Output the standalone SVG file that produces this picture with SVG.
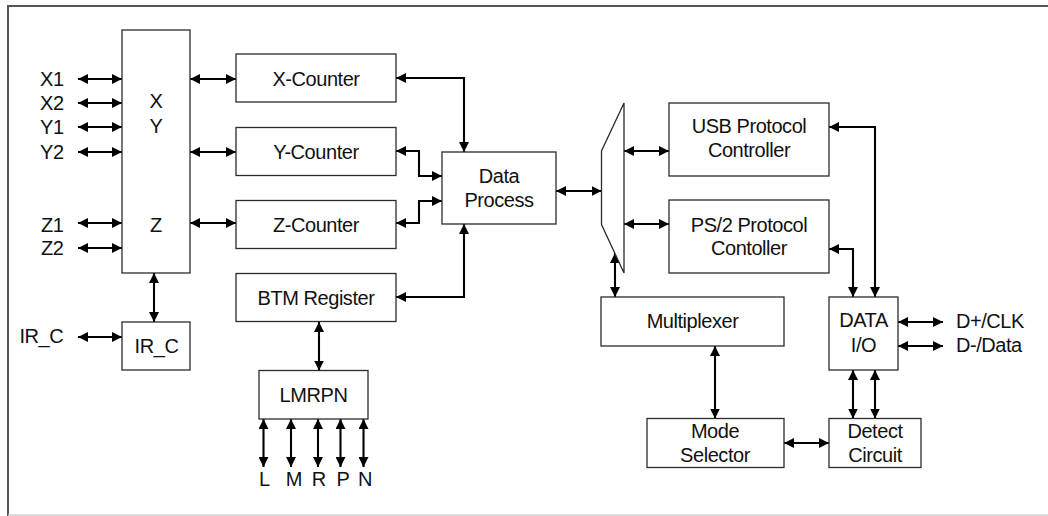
<svg xmlns="http://www.w3.org/2000/svg" width="1048" height="516" viewBox="0 0 1048 516">
<defs>
<marker id="ah" markerUnits="userSpaceOnUse" markerWidth="10" markerHeight="10" refX="10" refY="5" orient="auto-start-reverse" viewBox="0 0 10 10">
<path d="M0,0 L10,5 L0,10 z" fill="#000"/>
</marker>
</defs>
<style>
.box{fill:#fff;stroke:#2b2b2b;stroke-width:1.3}
.t{font-family:"Liberation Sans",Arial,sans-serif;font-size:20px;letter-spacing:-0.45px;fill:#111}
.m{text-anchor:middle}
.c{fill:none;stroke:#000;stroke-width:2.1;marker-start:url(#ah);marker-end:url(#ah)}
</style>
<rect width="1048" height="516" fill="#fff"/>
<g id="frame">
<line x1="8" y1="6" x2="1048" y2="6" stroke="#555" stroke-width="2"/>
<line x1="8" y1="5" x2="8" y2="516" stroke="#555" stroke-width="2"/>
<line x1="8" y1="515" x2="1048" y2="515" stroke="#d0d0d0" stroke-width="1.5"/>
</g>
<g id="connectors">
<path class="c" d="M78,79 H122"/>
<path class="c" d="M78,103 H122"/>
<path class="c" d="M78,127 H122"/>
<path class="c" d="M78,152 H122"/>
<path class="c" d="M78,223 H122"/>
<path class="c" d="M78,248 H122"/>
<path class="c" d="M190,79 H236"/>
<path class="c" d="M190,152 H236"/>
<path class="c" d="M190,223 H236"/>
<path class="c" d="M154,273 V322"/>
<path class="c" d="M78,337 H122"/>
<path class="c" d="M396,78 H464 V152"/>
<path class="c" d="M396,151 H419 V176 H442"/>
<path class="c" d="M396,223 H419 V201 H442"/>
<path class="c" d="M396,297 H464 V224"/>
<path class="c" d="M319,322 V370.5"/>
<path class="c" d="M263.5,419 V467"/>
<path class="c" d="M291,419 V467"/>
<path class="c" d="M318,419 V467"/>
<path class="c" d="M340.5,419 V467"/>
<path class="c" d="M363.5,419 V467"/>
<path class="c" d="M556,191 H601.5"/>
<path class="c" d="M624,151 H669"/>
<path class="c" d="M624,224 H669"/>
<path class="c" d="M615,253 V297"/>
<path class="c" d="M829,127 H875 V297"/>
<path class="c" d="M829,249 H853 V297"/>
<path class="c" d="M898,322 H943"/>
<path class="c" d="M898,346 H943"/>
<path class="c" d="M715,346 V418.5"/>
<path class="c" d="M784,443 H829"/>
<path class="c" d="M853,370 V418.5"/>
<path class="c" d="M875,370 V418.5"/>
</g>
<g id="pins">
<text class="t" x="40" y="86">X1</text>
<text class="t" x="40" y="110">X2</text>
<text class="t" x="40" y="134">Y1</text>
<text class="t" x="40" y="158.5">Y2</text>
<text class="t" x="41" y="232">Z1</text>
<text class="t" x="41" y="255">Z2</text>
<text class="t" x="19.5" y="343">IR_C</text>
<text class="t m" x="264.3" y="486">L</text>
<text class="t m" x="293.8" y="486">M</text>
<text class="t m" x="318.7" y="486">R</text>
<text class="t m" x="343" y="486">P</text>
<text class="t m" x="365" y="486">N</text>
<text class="t" x="956" y="327.5">D+/CLK</text>
<text class="t" x="956" y="352.3">D-/Data</text>
</g>
<g id="xyz">
<rect class="box" x="122" y="30" width="68" height="243"/>
<text class="t m" x="156" y="108">X</text>
<text class="t m" x="156" y="133">Y</text>
<text class="t m" x="156" y="232">Z</text>
</g>
<g id="x-counter">
<rect class="box" x="236" y="54" width="160" height="48"/>
<text class="t m" x="316" y="86">X-Counter</text>
</g>
<g id="y-counter">
<rect class="box" x="236" y="127.5" width="160" height="48"/>
<text class="t m" x="316" y="159">Y-Counter</text>
</g>
<g id="z-counter">
<rect class="box" x="236" y="200.5" width="160" height="48"/>
<text class="t m" x="316" y="232">Z-Counter</text>
</g>
<g id="btm-register">
<rect class="box" x="236" y="273.5" width="160" height="48"/>
<text class="t m" x="316" y="304.5">BTM Register</text>
</g>
<g id="ir-c">
<rect class="box" x="122" y="322" width="68" height="48"/>
<text class="t m" x="156.5" y="353">IR_C</text>
</g>
<g id="lmrpn">
<rect class="box" x="259" y="370.5" width="109" height="48.5"/>
<text class="t m" x="313.5" y="401.7">LMRPN</text>
</g>
<g id="data-process">
<rect class="box" x="442" y="152" width="114" height="72"/>
<text class="t m" x="499" y="182.7">Data</text>
<text class="t m" x="499" y="206.7">Process</text>
</g>
<g id="mux">
<polygon class="box" points="624,103 624,273 601.5,224.5 601.5,151"/>
</g>
<g id="usb">
<rect class="box" x="669" y="103" width="160" height="73"/>
<text class="t m" x="749" y="132.7">USB Protocol</text>
<text class="t m" x="749" y="157.3">Controller</text>
</g>
<g id="ps2">
<rect class="box" x="669" y="200" width="160" height="73"/>
<text class="t m" x="749" y="231.5">PS/2 Protocol</text>
<text class="t m" x="749" y="255">Contoller</text>
</g>
<g id="multiplexer">
<rect class="box" x="601" y="297" width="183" height="49"/>
<text class="t m" x="692.5" y="328.3">Multiplexer</text>
</g>
<g id="data-io">
<rect class="box" x="829" y="297" width="69" height="73"/>
<text class="t m" x="863.5" y="327.3">DATA</text>
<text class="t m" x="863.5" y="352.3">I/O</text>
</g>
<g id="mode-selector">
<rect class="box" x="647" y="418.5" width="137" height="49"/>
<text class="t m" x="715" y="437.5">Mode</text>
<text class="t m" x="715" y="461.7">Selector</text>
</g>
<g id="detect-circuit">
<rect class="box" x="829" y="418.5" width="92" height="49"/>
<text class="t m" x="875" y="437.5">Detect</text>
<text class="t m" x="875" y="461.7">Circuit</text>
</g>
</svg>
